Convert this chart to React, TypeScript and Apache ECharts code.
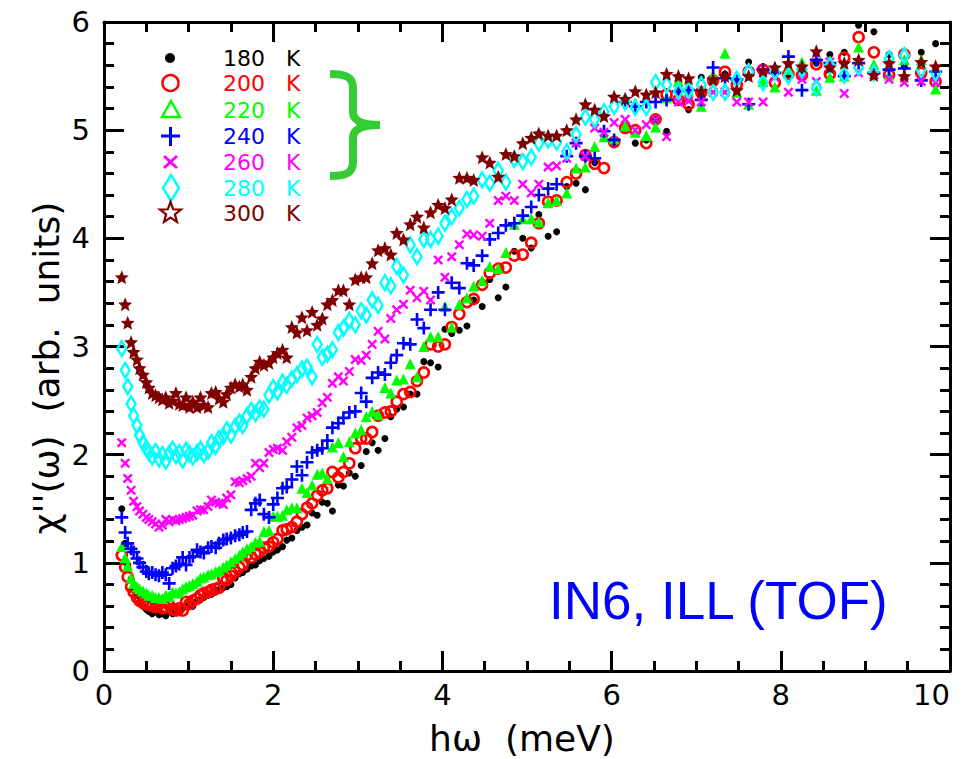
import React, { useEffect, useRef } from "react";
import * as echarts from "echarts";

// Energy transfer bins (meV)
const energy = [
  0.21, 0.25, 0.28, 0.32, 0.35, 0.39, 0.42, 0.46, 0.50, 0.53,
  0.57, 0.61, 0.65, 0.69, 0.73, 0.77, 0.81, 0.85, 0.89, 0.93,
  0.97, 1.01, 1.05, 1.10, 1.14, 1.18, 1.23, 1.27, 1.32, 1.36,
  1.41, 1.45, 1.50, 1.55, 1.60, 1.64, 1.69, 1.74, 1.79, 1.84,
  1.89, 1.95, 2.00, 2.05, 2.11, 2.16, 2.22, 2.28, 2.34, 2.40,
  2.46, 2.52, 2.58, 2.64, 2.70, 2.77, 2.83, 2.90, 2.97, 3.04,
  3.10, 3.17, 3.24, 3.32, 3.39, 3.46, 3.54, 3.62, 3.70, 3.78,
  3.86, 3.95, 4.03, 4.11, 4.20, 4.29, 4.37, 4.47, 4.56, 4.66,
  4.75, 4.85, 4.95, 5.05, 5.14, 5.25, 5.35, 5.47, 5.58, 5.69,
  5.80, 5.91, 6.03, 6.16, 6.28, 6.41, 6.52, 6.65, 6.79, 6.91,
  7.06, 7.20, 7.34, 7.48, 7.62, 7.79, 7.93, 8.09, 8.25, 8.42,
  8.58, 8.75, 8.92, 9.10, 9.28, 9.46, 9.66, 9.83,
];

const chi180 = [
  1.50, 1.18, 0.98, 0.85, 0.76, 0.70, 0.64, 0.60, 0.57, 0.55,
  0.53, 0.55, 0.52, 0.53, 0.51, 0.55, 0.53, 0.56, 0.54, 0.58,
  0.60, 0.62, 0.60, 0.65, 0.66, 0.68, 0.70, 0.71, 0.73, 0.75,
  0.77, 0.78, 0.80, 0.86, 0.90, 0.91, 0.94, 0.97, 0.98, 1.02,
  1.04, 1.06, 1.10, 1.12, 1.15, 1.21, 1.23, 1.30, 1.33, 1.35,
  1.46, 1.44, 1.56, 1.55, 1.48, 1.72, 1.71, 1.83, 1.80, 1.90,
  2.03, 2.11, 2.04, 2.15, 2.35, 2.42, 2.44, 2.56, 2.56, 2.86,
  2.85, 2.81, 3.16, 3.12, 3.15, 3.19, 3.43, 3.37, 3.62, 3.45,
  3.55, 3.88, 4.00, 3.91, 4.22, 4.02, 4.06, 4.48, 4.51, 4.45,
  4.70, 4.94, 4.89, 5.02, 4.88, 4.91, 5.10, 4.99, 5.35, 5.19,
  5.49, 5.45, 5.52, 5.44, 5.63, 5.50, 5.56, 5.50, 5.55, 5.62,
  5.70, 5.72, 5.97, 5.91, 5.70, 5.59, 5.72, 5.80,
];

const chi200 = [
  1.07, 0.96, 0.87, 0.78, 0.73, 0.68, 0.65, 0.63, 0.62, 0.61,
  0.60, 0.59, 0.62, 0.58, 0.59, 0.61, 0.57, 0.56, 0.58, 0.56,
  0.64, 0.62, 0.65, 0.67, 0.70, 0.72, 0.73, 0.75, 0.76, 0.77,
  0.86, 0.84, 0.88, 0.92, 0.96, 0.98, 1.07, 1.05, 1.08, 1.10,
  1.14, 1.15, 1.19, 1.22, 1.30, 1.31, 1.33, 1.38, 1.45, 1.51,
  1.55, 1.62, 1.67, 1.69, 1.84, 1.79, 1.84, 1.92, 2.06, 2.15,
  2.15, 2.21, 2.36, 2.39, 2.40, 2.49, 2.56, 2.58, 2.68, 2.76,
  3.02, 3.00, 3.02, 3.18, 3.30, 3.41, 3.44, 3.57, 3.68, 3.72,
  3.73, 3.84, 3.85, 3.96, 4.14, 4.34, 4.35, 4.52, 4.60, 4.77,
  4.69, 4.65, 4.89, 5.02, 5.00, 4.88, 5.10, 5.33, 5.28, 5.24,
  5.35, 5.46, 5.54, 5.42, 5.54, 5.56, 5.44, 5.52, 5.51, 5.61,
  5.52, 5.67, 5.86, 5.72, 5.51, 5.70, 5.53, 5.45,
];

const chi220 = [
  1.15, 1.05, 0.97, 0.86, 0.81, 0.78, 0.76, 0.74, 0.72, 0.70,
  0.70, 0.68, 0.68, 0.67, 0.70, 0.69, 0.73, 0.72, 0.73, 0.76,
  0.78, 0.79, 0.81, 0.83, 0.86, 0.87, 0.89, 0.90, 0.92, 0.93,
  0.96, 0.98, 1.01, 1.04, 1.07, 1.10, 1.13, 1.15, 1.19, 1.20,
  1.29, 1.30, 1.43, 1.43, 1.44, 1.49, 1.51, 1.51, 1.69, 1.65,
  1.72, 1.82, 1.83, 1.78, 2.07, 2.11, 1.98, 2.12, 2.20, 2.23,
  2.35, 2.40, 2.37, 2.62, 2.57, 2.69, 2.70, 2.84, 2.72, 3.00,
  3.09, 3.09, 3.37, 3.18, 3.39, 3.45, 3.56, 3.61, 3.74, 3.72,
  3.87, 4.13, 4.18, 4.18, 4.15, 4.33, 4.35, 4.42, 4.65, 4.66,
  4.85, 4.94, 4.92, 5.04, 4.98, 4.95, 5.03, 5.30, 5.45, 5.36,
  5.22, 5.51, 5.71, 5.35, 5.24, 5.45, 5.40, 5.56, 5.63, 5.37,
  5.49, 5.50, 5.77, 5.61, 5.51, 5.65, 5.65, 5.38,
];

const chi240 = [
  1.42, 1.28, 1.18, 1.13, 1.10, 1.04, 1.00, 0.96, 0.92, 0.90,
  0.91, 0.89, 0.88, 0.91, 0.89, 0.81, 0.95, 0.97, 0.99, 1.05,
  0.98, 1.05, 1.06, 1.12, 1.10, 1.09, 1.14, 1.15, 1.14, 1.18,
  1.21, 1.22, 1.23, 1.25, 1.26, 1.28, 1.29, 1.49, 1.55, 1.58,
  1.45, 1.42, 1.54, 1.60, 1.69, 1.70, 1.77, 1.89, 1.81, 1.93,
  2.02, 2.04, 2.06, 2.13, 2.25, 2.29, 2.34, 2.39, 2.40, 2.57,
  2.49, 2.71, 2.76, 2.74, 2.85, 2.92, 3.03, 3.02, 3.25, 3.17,
  3.34, 3.50, 3.34, 3.59, 3.54, 3.77, 3.75, 3.84, 3.99, 4.05,
  4.12, 4.14, 4.21, 4.29, 4.40, 4.46, 4.50, 4.76, 4.88, 4.76,
  4.74, 4.99, 4.91, 5.26, 5.22, 5.26, 5.26, 5.28, 5.36, 5.37,
  5.28, 5.58, 5.48, 5.47, 5.24, 5.56, 5.53, 5.68, 5.37, 5.65,
  5.62, 5.50, 5.62, 5.53, 5.56, 5.57, 5.46, 5.54,
];

const chi260 = [
  2.11, 1.92, 1.78, 1.67, 1.57, 1.52, 1.48, 1.45, 1.42, 1.40,
  1.38, 1.36, 1.33, 1.35, 1.40, 1.38, 1.40, 1.39, 1.40, 1.41,
  1.42, 1.43, 1.44, 1.48, 1.49, 1.49, 1.52, 1.58, 1.56, 1.55,
  1.54, 1.60, 1.63, 1.75, 1.74, 1.76, 1.78, 1.80, 1.92, 1.88,
  1.92, 2.02, 2.05, 2.06, 2.04, 2.12, 2.16, 2.25, 2.27, 2.34,
  2.36, 2.39, 2.48, 2.53, 2.66, 2.72, 2.68, 2.77, 2.88, 2.87,
  2.92, 3.02, 3.14, 3.07, 3.26, 3.34, 3.39, 3.52, 3.45, 3.51,
  3.43, 3.80, 3.64, 3.83, 3.94, 4.04, 4.03, 4.02, 4.14, 4.35,
  4.39, 4.35, 4.50, 4.42, 4.50, 4.66, 4.67, 4.74, 4.88, 4.76,
  5.02, 4.98, 5.07, 5.10, 5.00, 5.05, 5.10, 4.94, 5.26, 5.27,
  5.26, 5.35, 5.35, 5.26, 5.26, 5.26, 5.49, 5.35, 5.47, 5.45,
  5.63, 5.34, 5.53, 5.51, 5.47, 5.44, 5.45, 5.44,
];

const chi280 = [
  2.98, 2.78, 2.63, 2.47, 2.36, 2.27, 2.18, 2.11, 2.06, 2.02,
  1.98, 2.03, 1.96, 2.00, 1.94, 2.01, 2.05, 1.99, 2.02, 1.95,
  2.04, 2.01, 1.98, 2.02, 2.05, 2.00, 2.03, 2.11, 2.08, 2.15,
  2.17, 2.23, 2.18, 2.26, 2.30, 2.27, 2.36, 2.41, 2.38, 2.43,
  2.42, 2.55, 2.62, 2.58, 2.67, 2.64, 2.70, 2.74, 2.79, 2.81,
  2.72, 3.02, 2.90, 2.93, 2.97, 3.13, 3.17, 3.24, 3.20, 3.33,
  3.29, 3.43, 3.38, 3.59, 3.56, 3.74, 3.66, 3.94, 3.83, 3.99,
  3.99, 4.02, 4.14, 4.20, 4.28, 4.36, 4.39, 4.54, 4.51, 4.63,
  4.52, 4.73, 4.71, 4.75, 4.88, 4.91, 4.89, 4.80, 4.96, 5.12,
  5.10, 5.17, 5.22, 5.26, 5.21, 5.21, 5.44, 5.42, 5.36, 5.37,
  5.42, 5.35, 5.35, 5.47, 5.54, 5.44, 5.54, 5.50, 5.56, 5.39,
  5.60, 5.51, 5.58, 5.53, 5.66, 5.69, 5.56, 5.53,
];

const chi300 = [
  3.64, 3.39, 3.22, 3.04, 2.95, 2.88, 2.80, 2.74, 2.67, 2.62,
  2.57, 2.55, 2.53, 2.51, 2.53, 2.48, 2.50, 2.57, 2.47, 2.46,
  2.53, 2.44, 2.49, 2.44, 2.53, 2.46, 2.44, 2.57, 2.58, 2.52,
  2.49, 2.56, 2.62, 2.65, 2.63, 2.65, 2.60, 2.72, 2.80, 2.86,
  2.83, 2.85, 2.90, 2.94, 2.97, 2.90, 3.18, 3.13, 3.27, 3.15,
  3.32, 3.20, 3.26, 3.39, 3.43, 3.52, 3.52, 3.39, 3.62, 3.64,
  3.64, 3.77, 3.89, 3.91, 3.85, 4.05, 3.99, 4.13, 4.20, 4.10,
  4.24, 4.31, 4.28, 4.36, 4.56, 4.56, 4.54, 4.75, 4.70, 4.57,
  4.78, 4.76, 4.88, 4.93, 4.97, 4.95, 4.95, 5.00, 5.10, 5.24,
  5.19, 5.13, 5.31, 5.29, 5.36, 5.33, 5.35, 5.52, 5.50, 5.48,
  5.36, 5.47, 5.50, 5.37, 5.50, 5.55, 5.58, 5.62, 5.59, 5.73,
  5.58, 5.62, 5.65, 5.51, 5.62, 5.50, 5.63, 5.59,
];

const temperatures = ["180", "200", "220", "240", "260", "280", "300"];
const colors = ["#000000", "#ff0000", "#00ff00", "#0000ff", "#ff00ff", "#00ffff", "#800000"];
const seriesValues = [chi180, chi200, chi220, chi240, chi260, chi280, chi300];

const xTicks = [0, 2, 4, 6, 8, 10];
const yTicks = [0, 1, 2, 3, 4, 5, 6];

const PLUS = "path://M4,0H6V4H10V6H6V10H4V6H0V4H4Z";
const CROSS = "path://M0,1.7L1.7,0L5,3.3L8.3,0L10,1.7L6.7,5L10,8.3L8.3,10L5,6.7L1.7,10L0,8.3L3.3,5Z";
const STAR = "path://M10,0L12.65,6.36L19.51,6.91L14.28,11.39L15.88,18.09L10,14.5L4.12,18.09L5.72,11.39L0.49,6.91L7.35,6.36Z";

const symbolStyles: any[] = [
  { symbol: "circle", size: 7, hollow: false },
  { symbol: "circle", size: 10, hollow: true, bw: 2.6 },
  { symbol: "triangle", size: 11, hollow: false },
  { symbol: PLUS, size: 13, hollow: false },
  { symbol: CROSS, size: 10, hollow: false },
  { symbol: "diamond", size: [9, 15], hollow: true, bw: 2.6 },
  { symbol: STAR, size: 14, hollow: false },
];

const BRACE_D =
  "M0,6 C14,6 23,8 23,20 L23,44 C23,52 30,57 50,57 M50,57 C30,57 23,62 23,70 L23,94 C23,106 14,108 0,108";
echarts.graphic.registerShape("brace", echarts.graphic.extendPath(BRACE_D, {}) as any);

const FONT = "DejaVu Sans";

function makeAxis(kind: "x" | "y", pos: string, showLabels: boolean) {
  const isX = kind === "x";
  return {
    type: "value",
    position: pos,
    min: isX ? xTicks[0] : yTicks[0],
    max: isX ? xTicks[xTicks.length - 1] : yTicks[yTicks.length - 1],
    interval: isX ? 2 : 1,
    axisLine: { show: true, onZero: false, lineStyle: { color: "#000", width: 3 } },
    axisTick: { show: true, inside: true, length: 20, lineStyle: { color: "#000", width: 3 } },
    minorTick: { show: true, splitNumber: isX ? 4 : 5, length: 10, lineStyle: { color: "#000", width: 3 } },
    splitLine: { show: false },
    minorSplitLine: { show: false },
    axisLabel: {
      show: showLabels,
      color: "#000",
      fontSize: 29,
      fontFamily: FONT,
      margin: isX ? 9 : 14,
      alignMaxLabel: isX ? "right" : undefined,
    },
  };
}

export default function App() {
  const ref = useRef<HTMLDivElement>(null);
  useEffect(() => {
    document.body.style.margin = "0";
    if (!ref.current) return;
    const chart = echarts.init(ref.current, undefined, { renderer: "svg" });

    const series = temperatures.map((t, k) => {
      const s = symbolStyles[k];
      return {
        name: t + " K",
        type: "scatter",
        xAxisIndex: 0,
        yAxisIndex: 0,
        symbol: s.symbol,
        symbolSize: s.size,
        data: energy.map((e, i) => [e, seriesValues[k][i]]),
        itemStyle: s.hollow
          ? { color: "rgba(255,255,255,0)", borderColor: colors[k], borderWidth: s.bw, opacity: 1 }
          : { color: colors[k], opacity: 1 },
        emphasis: { disabled: true },
      };
    });

    const legendY = [58, 83, 110, 136, 162, 188, 213];
    const legendGraphics: any[] = [
      { type: "circle", shape: { cx: 170, cy: legendY[0], r: 5 }, style: { fill: colors[0] } },
      { type: "circle", shape: { cx: 170.5, cy: legendY[1], r: 8 }, style: { fill: "none", stroke: colors[1], lineWidth: 2.5 } },
      { type: "polygon", shape: { points: [[171, 101], [180, 117], [162, 117]] }, style: { fill: "none", stroke: colors[2], lineWidth: 2.5 } },
      { type: "line", shape: { x1: 161, y1: 136, x2: 180, y2: 136 }, style: { stroke: colors[3], lineWidth: 3 } },
      { type: "line", shape: { x1: 170.5, y1: 127, x2: 170.5, y2: 146 }, style: { stroke: colors[3], lineWidth: 3 } },
      { type: "line", shape: { x1: 164, y1: 156, x2: 177, y2: 168 }, style: { stroke: colors[4], lineWidth: 3 } },
      { type: "line", shape: { x1: 164, y1: 168, x2: 177, y2: 156 }, style: { stroke: colors[4], lineWidth: 3 } },
      { type: "polygon", shape: { points: [[171, 175], [179, 188], [171, 201], [163, 188]] }, style: { fill: "none", stroke: colors[5], lineWidth: 2.5 } },
      {
        type: "polygon",
        shape: {
          points: [
            [170.5, 202], [173.2, 209.3], [181, 209.6], [174.9, 214.4], [177, 221.9],
            [170.5, 217.6], [164, 221.9], [166.1, 214.4], [160, 209.6], [167.8, 209.3],
          ],
        },
        style: { fill: "none", stroke: colors[6], lineWidth: 2.2 },
      },
    ];

    temperatures.forEach((t, k) => {
      legendGraphics.push({
        type: "text",
        x: 223,
        y: legendY[k],
        style: {
          text: t + "   K",
          fill: colors[k],
          fontSize: 22,
          fontFamily: FONT,
          align: "left",
          verticalAlign: "middle",
        },
      });
    });

    chart.setOption({
      animation: false,
      backgroundColor: "#ffffff",
      grid: { left: 104, top: 22, width: 846, height: 649, containLabel: false },
      xAxis: [makeAxis("x", "bottom", true), makeAxis("x", "top", false)],
      yAxis: [makeAxis("y", "left", true), makeAxis("y", "right", false)],
      series,
      graphic: [
        ...legendGraphics,
        {
          type: "brace",
          x: 330,
          y: 68,
          style: { fill: "none", stroke: "#33cc33", lineWidth: 8 },
        },
        {
          type: "text",
          x: 549,
          y: 600,
          style: { text: "IN6, ILL (TOF)", fill: "#0000ff", fontSize: 53, fontFamily: "Liberation Sans", align: "left", verticalAlign: "middle" },
        },
        {
          type: "text",
          x: 522,
          y: 738,
          style: { text: "hω  (meV)", fill: "#000", fontSize: 36, fontFamily: FONT, align: "center", verticalAlign: "middle" },
        },
        {
          type: "text",
          x: 46,
          y: 368,
          rotation: Math.PI / 2,
          style: { text: "χ''(ω)  (arb.  units)", fill: "#000", fontSize: 36, fontFamily: FONT, align: "center", verticalAlign: "middle" },
        },
      ],
    });
    return () => chart.dispose();
  }, []);
  return <div ref={ref} style={{ width: 962, height: 759 }} />;
}
